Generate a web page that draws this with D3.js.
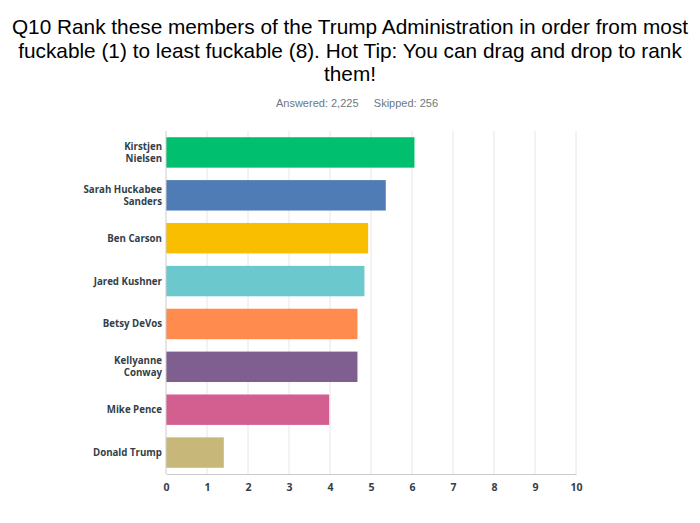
<!DOCTYPE html>
<html>
<head>
<meta charset="utf-8">
<script src="https://cdn.jsdelivr.net/npm/d3@7"></script>
<style>
  body { margin: 0; background: #fff; }
  .title { font-family: "Liberation Sans", Arial, sans-serif; font-size: 20.8px; fill: #000; }
  .sub { font-family: "Liberation Sans", Arial, sans-serif; font-size: 11px; fill: #6b787f; }
  .cat { font-family: "Open Sans", "DejaVu Sans", sans-serif; font-size: 9.7px; font-weight: 700; fill: #333e48; }
  .x-axis text { font-family: "Open Sans", "DejaVu Sans", sans-serif; font-size: 10.5px; font-weight: 700; fill: #333e48; }
</style>
</head>
<body>
<div id="chart"></div>
<script>
// 資料
const categories = ["Kirstjen Nielsen", "Sarah Huckabee Sanders", "Ben Carson", "Jared Kushner",
                    "Betsy DeVos", "Kellyanne Conway", "Mike Pence", "Donald Trump"];
const labelLines = [["Kirstjen", "Nielsen"], ["Sarah Huckabee", "Sanders"], ["Ben Carson"], ["Jared Kushner"],
                    ["Betsy DeVos"], ["Kellyanne", "Conway"], ["Mike Pence"], ["Donald Trump"]];
const scores = [6.06, 5.36, 4.93, 4.84, 4.67, 4.67, 3.98, 1.41];
const barColors = ["#00bf6f", "#507cb6", "#f9be00", "#6bc8cd", "#ff8b4f", "#7f5f90", "#d25f90", "#c7b879"];
const xTicks = [0, 1, 2, 3, 4, 5, 6, 7, 8, 9, 10];
const titleLines = [
    "Q10 Rank these members of the Trump Administration in order from most",
    "fuckable (1) to least fuckable (8). Hot Tip: You can drag and drop to rank",
    "them!"
];
const answered = "2,225";
const skipped = "256";

const width = 700, height = 523;
const margin = { top: 131, right: 124, bottom: 49, left: 166 };

const svg = d3.select("#chart").append("svg")
    .attr("width", width)
    .attr("height", height);

// 標題
svg.selectAll(".title")
    .data(titleLines)
    .enter()
    .append("text")
    .attr("class", "title")
    .attr("text-anchor", "middle")
    .attr("x", width / 2)
    .attr("y", (d, i) => 34 + i * 23.5)
    .text(d => d);

svg.append("text")
    .attr("class", "sub")
    .attr("text-anchor", "middle")
    .attr("x", 357)
    .attr("y", 107)
    .attr("xml:space", "preserve")
    .text(`Answered: ${answered}     Skipped: ${skipped}`);

const x = d3.scaleLinear()
    .domain([0, 10])
    .range([margin.left, width - margin.right]);

const y = d3.scaleBand()
    .domain(categories)
    .range([margin.top, height - margin.bottom])
    .paddingInner(0.29)
    .paddingOuter(0.145);

// 格線
svg.append("g")
    .selectAll("line")
    .data(xTicks.slice(1))
    .enter()
    .append("line")
    .attr("x1", d => x(d))
    .attr("x2", d => x(d))
    .attr("y1", margin.top)
    .attr("y2", height - margin.bottom)
    .attr("stroke", "#e6e6e6")
    .attr("stroke-width", 1);

// 長條
svg.append("g")
    .selectAll("rect")
    .data(categories)
    .enter()
    .append("rect")
    .attr("x", x(0))
    .attr("y", d => y(d))
    .attr("width", (d, i) => x(scores[i]) - x(0))
    .attr("height", y.bandwidth())
    .attr("fill", (d, i) => barColors[i]);

// X軸
const xAxis = svg.append("g")
    .attr("class", "x-axis")
    .attr("transform", `translate(0,${height - margin.bottom})`)
    .call(d3.axisBottom(x).tickValues(xTicks).tickSize(0).tickPadding(10));
xAxis.select(".domain").attr("stroke", "#cccccc");

// Y軸線
svg.append("line")
    .attr("x1", x(0))
    .attr("x2", x(0))
    .attr("y1", margin.top)
    .attr("y2", height - margin.bottom)
    .attr("stroke", "#cccccc");

// 類別標籤
categories.forEach((c, i) => {
    const lines = labelLines[i];
    const cy = y(c) + y.bandwidth() / 2;
    const t = svg.append("text")
        .attr("class", "cat")
        .attr("text-anchor", "end")
        .attr("x", 162)
        .attr("y", cy - (lines.length - 1) * 6 + 3.5);
    lines.forEach((l, j) => {
        t.append("tspan")
            .attr("x", 162)
            .attr("dy", j === 0 ? 0 : 12)
            .text(l);
    });
});
</script>
</body>
</html>
